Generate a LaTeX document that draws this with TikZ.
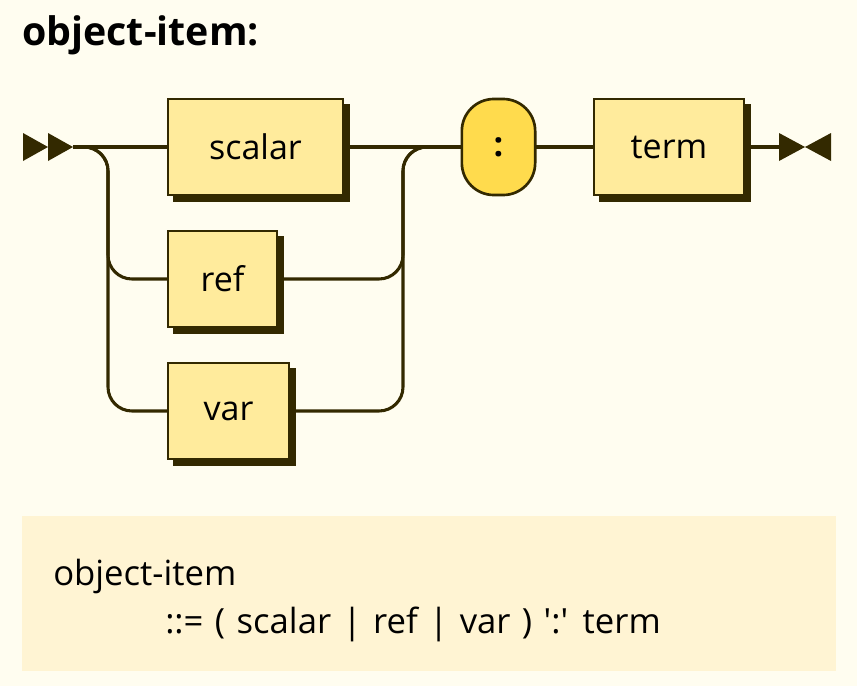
\documentclass[tikz,border=0pt]{standalone}
\usepackage{fontspec}
\setmainfont{Open Sans}
\newfontfamily\plainsans{Open Sans}[Ligatures=TeXOff]
\usetikzlibrary{calc}
\definecolor{bgc}{HTML}{FFFDF0}
\definecolor{ntfill}{HTML}{FFEB9C}
\definecolor{tfill}{HTML}{FFDB4D}
\definecolor{linec}{HTML}{332900}
\definecolor{ebnffill}{HTML}{FFF4D3}
\tikzset{
  x=0.75pt, y=-0.75pt,
  conn/.style={draw=linec, line width=2.3pt},
  railcurve/.style={conn, rounded corners=18pt},
  ntbox/.style={draw=linec, line width=2pt, fill=ntfill, minimum height=72pt,
     inner sep=0pt, font=\fontsize{25.5pt}{30pt}\selectfont, text=black},
  tbox/.style={draw=linec, line width=2pt, fill=tfill, minimum height=72pt,
     minimum width=55pt, rounded corners=24pt, inner sep=0pt,
     font=\fontsize{25.5pt}{30pt}\selectfont\bfseries, text=black},
  marker/.style={fill=linec, draw=none},
  ebnftext/.style={anchor=base west, inner sep=0pt, font=\fontsize{26pt}{30pt}\selectfont\plainsans},
}
\newcommand{\shadowbox}[1]{%
  \fill[linec] ($(#1.north west)+(6,6)$) rectangle ($(#1.south east)+(6,6)$);}
\begin{document}
\begin{tikzpicture}
\fill[bgc] (0,0) rectangle (857,686);
\useasboundingbox (0,0) rectangle (857,686);

% title
\node[anchor=base west, inner sep=0pt, font=\fontsize{29.5pt}{34pt}\selectfont\bfseries] (title) at (22,45) {object-item:};

% coordinates
\coordinate (start) at (73,147);
\coordinate (endm) at (779,147);
\coordinate (lsplit) at (108,147);
\coordinate (rjoin) at (403,147);

% shadow frames (invisible)
\path (255.5,147) node[ntbox, minimum width=131.25pt, draw=none, fill=none] (scalarS) {};
\path (222.5,279) node[ntbox, minimum width=81.75pt, draw=none, fill=none] (refS) {};
\path (228.5,411) node[ntbox, minimum width=90.75pt, draw=none, fill=none] (varS) {};
\path (669,147) node[ntbox, minimum width=112.5pt, draw=none, fill=none] (termS) {};
\shadowbox{scalarS}
\shadowbox{refS}
\shadowbox{varS}
\shadowbox{termS}
\fill[linec, rounded corners=24pt] ($(498.5,147)+(-27.4+7,-36+7)$) rectangle ($(498.5,147)+(27.4+7,36+7)$);

% connectors
\draw[conn] (start) -- (255.5,147);
\draw[railcurve] (start) -- (lsplit) -- (108,279) -- (222.5,279);
\draw[railcurve] (start) -- (lsplit) -- (108,411) -- (228.5,411);
\draw[conn] (255.5,147) -- (498.5,147);
\draw[railcurve] (222.5,279) -- (403,279) -- (rjoin) -- (498.5,147);
\draw[railcurve] (228.5,411) -- (403,411) -- (rjoin) -- (498.5,147);
\draw[conn] (498.5,147) -- (endm);

% nodes
\node[ntbox, minimum width=131.25pt] (scalar) at (255.5,147) {scalar};
\node[ntbox, minimum width=81.75pt] (ref) at (222.5,279) {ref};
\node[ntbox, minimum width=90.75pt] (var) at (228.5,411) {var};
\node[tbox] (colon) at (498.5,147) {:};
\node[ntbox, minimum width=112.5pt] (term) at (669,147) {term};

% start marker
\fill[marker] (23,133) -- (48,147) -- (23,161) -- cycle;
\fill[marker] (48,133) -- (73,147) -- (48,161) -- cycle;
% end marker
\fill[marker] (779,133) -- (805,147) -- (779,161) -- cycle;
\fill[marker] (831,133) -- (805,147) -- (831,161) -- cycle;

% EBNF box
\fill[ebnffill] (22,516) rectangle (836,671);
\node[ebnftext] (ebnf1) at (53,585) {object-item};
\node[ebnftext] (ebnf2) at (165,633) {\spaceskip=0.33em plus 0.1em ::= ( scalar | ref | var ) ':' term};
\end{tikzpicture}
\end{document}
